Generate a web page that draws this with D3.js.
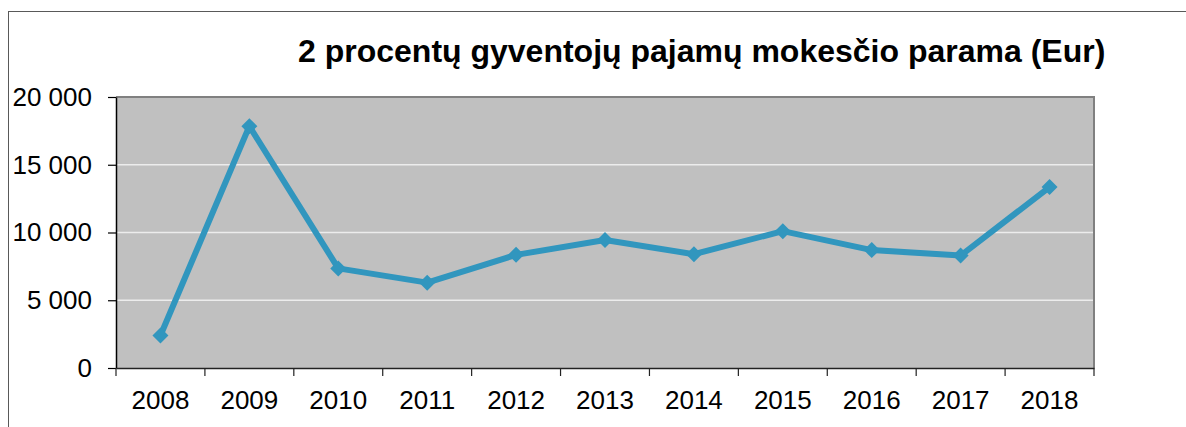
<!DOCTYPE html>
<html>
<head>
<meta charset="utf-8">
<script src="https://cdn.jsdelivr.net/npm/d3@7"></script>
<style>
  html, body { margin: 0; padding: 0; background: #fff; }
  svg { display: block; font-family: "Liberation Sans", Arial, sans-serif; }
</style>
</head>
<body>
<div id="chart"></div>
<script>
// chart data
const years = ["2008", "2009", "2010", "2011", "2012", "2013", "2014", "2015", "2016", "2017", "2018"];
const supportValues = [2400, 17850, 7350, 6300, 8350, 9450, 8400, 10100, 8700, 8300, 13350];
const yTicks = [0, 5000, 10000, 15000, 20000];
const chartTitle = "2 procentų gyventojų pajamų mokesčio parama (Eur)";

const width = 1186, height = 427;
const plot = { left: 116, right: 1094, top: 97, bottom: 368 };
const lineColor = "#3196be";

const svg = d3.select("#chart").append("svg")
  .attr("width", width)
  .attr("height", height);

// outer chart frame (right and bottom edges fall outside the window)
svg.append("rect")
  .attr("x", 8.5).attr("y", 11.5)
  .attr("width", width + 20).attr("height", height + 20)
  .attr("fill", "#fff")
  .attr("stroke", "#595959")
  .attr("stroke-width", 1);

svg.append("text")
  .attr("x", 298)
  .attr("y", 62)
  .attr("font-size", "32px")
  .attr("font-weight", "bold")
  .attr("fill", "#000")
  .text(chartTitle);

const x = d3.scaleBand()
  .domain(years)
  .range([plot.left, plot.right])
  .padding(0);

const y = d3.scaleLinear()
  .domain([0, 20000])
  .range([plot.bottom, plot.top]);

// plot area background
svg.append("rect")
  .attr("x", plot.left).attr("y", plot.top)
  .attr("width", plot.right - plot.left)
  .attr("height", plot.bottom - plot.top)
  .attr("fill", "#c0c0c0");

// grid lines
svg.append("g")
  .selectAll("line")
  .data(yTicks.filter(d => d > 0 && d < 20000))
  .enter()
  .append("line")
  .attr("x1", plot.left).attr("x2", plot.right)
  .attr("y1", d => y(d)).attr("y2", d => y(d))
  .attr("stroke", "#ececec")
  .attr("stroke-width", 1.5);

// top and right border of plot area
svg.append("path")
  .attr("d", `M${plot.left},${y(20000)}H${plot.right}V${plot.bottom}`)
  .attr("fill", "none")
  .attr("stroke", "#808080")
  .attr("stroke-width", 2);

const fmt = d => d3.format(",")(d).replace(/,/g, " ");

// y axis
const yAxis = d3.axisLeft(y)
  .tickValues(yTicks)
  .tickSize(8)
  .tickSizeOuter(0)
  .tickPadding(16)
  .tickFormat(fmt);

const gy = svg.append("g")
  .attr("transform", `translate(${plot.left},0)`)
  .call(yAxis);
gy.select(".domain").attr("stroke", "#000").attr("stroke-width", 1.5);
gy.selectAll(".tick line").attr("stroke", "#000").attr("stroke-width", 1.2);
gy.selectAll("text")
  .attr("font-size", "26px")
  .attr("font-family", "Liberation Sans, Arial, sans-serif")
  .attr("fill", "#000");

// x axis: labels at band centres, ticks at band boundaries
const xAxis = d3.axisBottom(x)
  .tickSize(0)
  .tickSizeOuter(0)
  .tickPadding(23);

const gx = svg.append("g")
  .attr("transform", `translate(0,${plot.bottom})`)
  .call(xAxis);
gx.select(".domain").attr("stroke", "#222").attr("stroke-width", 1.5);
gx.selectAll("text")
  .attr("font-size", "26px")
  .attr("font-family", "Liberation Sans, Arial, sans-serif")
  .attr("fill", "#000");

const boundaries = years.map(d => x(d)).concat([x(years[years.length - 1]) + x.bandwidth()]);
gx.selectAll(".bound")
  .data(boundaries)
  .enter()
  .append("line")
  .attr("class", "bound")
  .attr("x1", d => d).attr("x2", d => d)
  .attr("y1", 0).attr("y2", 8)
  .attr("stroke", "#222")
  .attr("stroke-width", 1.2);

// series line
const line = d3.line()
  .x((d, i) => x(years[i]) + x.bandwidth() / 2)
  .y(d => y(d));

svg.append("path")
  .datum(supportValues)
  .attr("d", line)
  .attr("fill", "none")
  .attr("stroke", lineColor)
  .attr("stroke-width", 6)
  .attr("stroke-linejoin", "round");

// diamond markers
svg.append("g")
  .selectAll("path")
  .data(supportValues)
  .enter()
  .append("path")
  .attr("transform", (d, i) => `translate(${x(years[i]) + x.bandwidth() / 2},${y(d)})`)
  .attr("d", "M0,-8L8,0L0,8L-8,0Z")
  .attr("fill", lineColor);
</script>
</body>
</html>
